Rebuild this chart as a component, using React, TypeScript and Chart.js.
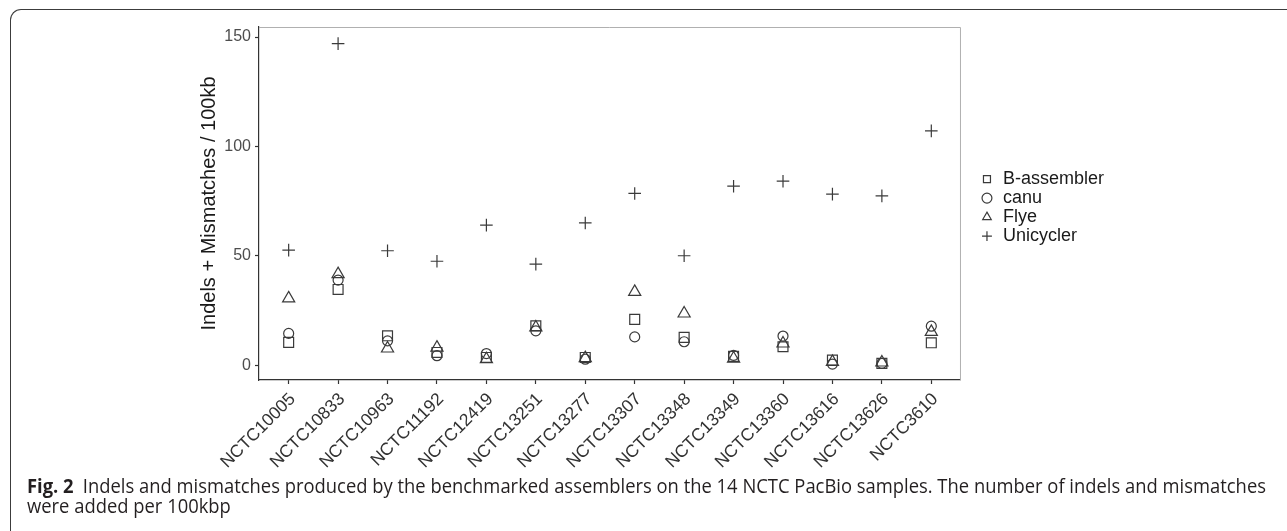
import React, { useEffect, useRef } from 'react';
import { Chart, registerables } from 'chart.js';

Chart.register(...registerables);

const categories = [
  'NCTC10005', 'NCTC10833', 'NCTC10963', 'NCTC11192', 'NCTC12419', 'NCTC13251', 'NCTC13277',
  'NCTC13307', 'NCTC13348', 'NCTC13349', 'NCTC13360', 'NCTC13616', 'NCTC13626', 'NCTC3610',
];
const bAssembler = [10.4, 34.6, 13.4, 5.8, 3.5, 18.0, 3.5, 20.9, 12.7, 4.0, 8.4, 2.3, 0.8, 10.2];
const canu = [14.5, 38.9, 11.1, 4.3, 5.3, 15.7, 2.7, 12.9, 10.7, 4.5, 13.3, 0.5, 0.8, 17.8];
const flye = [30.5, 41.6, 7.6, 8.0, 2.7, 17.2, 3.2, 33.5, 23.6, 3.0, 9.9, 1.5, 1.2, 15.2];
const unicycler = [52.6, 147.0, 52.3, 47.5, 64.0, 46.2, 65.0, 78.5, 50.0, 81.8, 84.1, 78.2, 77.4, 107.1];
const seriesNames = ['B-assembler', 'canu', 'Flye', 'Unicycler'];
const yTickValues = [0, 50, 100, 150];
const yTitle = 'Indels + Mismatches / 100kb';
const captionLabel = 'Fig. 2';
const captionLine1 =
  'Indels and mismatches produced by the benchmarked assemblers on the 14 NCTC PacBio samples. The number of indels and mismatches';
const captionLine2 = 'were added per 100kbp';

const FONT = '"Liberation Sans", Arial, Helvetica, sans-serif';
const INK = '#3a3a3a';

const panelBorder = {
  id: 'panelBorder',
  afterDraw(chart: any) {
    const { ctx, chartArea: a } = chart;
    ctx.save();
    ctx.strokeStyle = '#b0b0b0';
    ctx.lineWidth = 1;
    ctx.beginPath();
    ctx.moveTo(a.left, a.top + 0.5);
    ctx.lineTo(a.right - 0.5, a.top + 0.5);
    ctx.lineTo(a.right - 0.5, a.bottom);
    ctx.stroke();
    ctx.restore();
  },
};

export default function App() {
  const canvasRef = useRef<HTMLCanvasElement>(null);
  const capRef = useRef<HTMLDivElement>(null);
  const line1Ref = useRef<HTMLSpanElement>(null);

  useEffect(() => {
    document.body.style.margin = '0';
    const toPts = (arr: number[]) => arr.map((v, i) => ({ x: i, y: v }));
    const common = {
      showLine: false,
      borderColor: INK,
      backgroundColor: 'rgba(0,0,0,0)',
      borderWidth: 1.2,
      pointBorderColor: INK,
      pointBackgroundColor: 'rgba(0,0,0,0)',
      pointBorderWidth: 1.2,
      pointHoverRadius: 0,
    };
    const chart = new Chart(canvasRef.current as HTMLCanvasElement, {
      type: 'scatter',
      data: {
        datasets: [
          { label: seriesNames[0], data: toPts(bAssembler), pointStyle: 'rect', pointRadius: 7, ...common },
          { label: seriesNames[1], data: toPts(canu), pointStyle: 'circle', pointRadius: 5, ...common },
          { label: seriesNames[2], data: toPts(flye), pointStyle: 'triangle', pointRadius: 7, ...common },
          { label: seriesNames[3], data: toPts(unicycler), pointStyle: 'cross', pointRadius: 6.3, ...common },
        ],
      },
      options: {
        animation: false,
        responsive: false,
        maintainAspectRatio: false,
        layout: { padding: { left: 195, right: 173, top: 27, bottom: 5 } },
        plugins: {
          tooltip: { enabled: false },
          legend: {
            position: 'right',
            align: 'center',
            fullSize: false,
            title: { display: true, text: ' ', font: { size: 1 }, padding: { top: 3, bottom: 4 } },
            labels: {
              usePointStyle: true,
              boxWidth: 14,
              boxHeight: 7,
              padding: 1,
              color: '#1a1a1a',
              font: { size: 18, family: FONT },
            },
          },
        },
        scales: {
          x: {
            type: 'linear',
            min: -0.6,
            max: 13.6,
            afterBuildTicks: (s: any) => {
              s.ticks = categories.map((_, i) => ({ value: i }));
            },
            afterFit: (s: any) => {
              s.height = 90;
            },
            ticks: {
              autoSkip: false,
              minRotation: 45,
              maxRotation: 45,
              padding: 5,
              labelOffset: 4,
              color: '#333333',
              font: { size: 17.5, family: FONT },
              callback: (v: any) => categories[Math.round(Number(v))] ?? '',
            },
            grid: { drawOnChartArea: false, drawTicks: true, tickLength: 4, tickColor: '#333333', tickWidth: 1.2 },
            border: { display: true, color: '#333333', width: 1.2 },
          },
          y: {
            type: 'linear',
            min: -6.8,
            max: 154.6,
            afterBuildTicks: (s: any) => {
              s.ticks = yTickValues.map((v) => ({ value: v }));
            },
            afterFit: (s: any) => {
              s.width = 64;
            },
            ticks: { padding: 4, color: '#4d4d4d', font: { size: 16, family: FONT } },
            grid: { drawOnChartArea: false, drawTicks: true, tickLength: 4, tickColor: '#333333', tickWidth: 1.2 },
            border: { display: true, color: '#333333', width: 1.2 },
            title: {
              display: true,
              text: yTitle,
              color: '#1a1a1a',
              font: { size: 20, family: FONT },
              padding: { top: 2, bottom: 0 },
            },
          },
          y2: {
            type: 'linear',
            position: 'right',
            display: true,
            ticks: { display: false },
            grid: { display: false, drawTicks: false },
            border: { display: false },
            afterFit: (s: any) => {
              s.width = 18;
            },
          },
        },
      },
      plugins: [panelBorder],
    } as any);

    if (capRef.current && line1Ref.current) {
      const w = line1Ref.current.getBoundingClientRect().width;
      if (w > 0) capRef.current.style.transform = `scaleX(${1239 / w})`;
    }
    return () => chart.destroy();
  }, []);

  return (
    <div style={{ position: 'relative', width: 1287, height: 531, overflow: 'hidden', background: '#fff' }}>
      <div
        style={{
          position: 'absolute',
          left: 10,
          top: 9,
          width: 1400,
          height: 700,
          borderTop: '1.3px solid #3c3c3c',
          borderLeft: '1.3px solid #3c3c3c',
          borderTopLeftRadius: 11,
        }}
      />
      <canvas ref={canvasRef} width={1287} height={475} style={{ position: 'absolute', left: 0, top: 0, width: 1287, height: 475 }} />
      <div
        ref={capRef}
        style={{
          position: 'absolute',
          left: 27,
          top: 476,
          transformOrigin: '0 0',
          fontFamily: '"Open Sans", "Noto Sans", sans-serif',
          fontSize: 19.6,
          lineHeight: '20px',
          color: '#231f20',
          whiteSpace: 'nowrap',
        }}
      >
        <span ref={line1Ref} style={{ display: 'inline-block' }}>
          <b>{captionLabel}</b>
          {'\u2002'}
          {captionLine1}
        </span>
        <br />
        <span style={{ display: 'inline-block' }}>{captionLine2}</span>
      </div>
    </div>
  );
}
